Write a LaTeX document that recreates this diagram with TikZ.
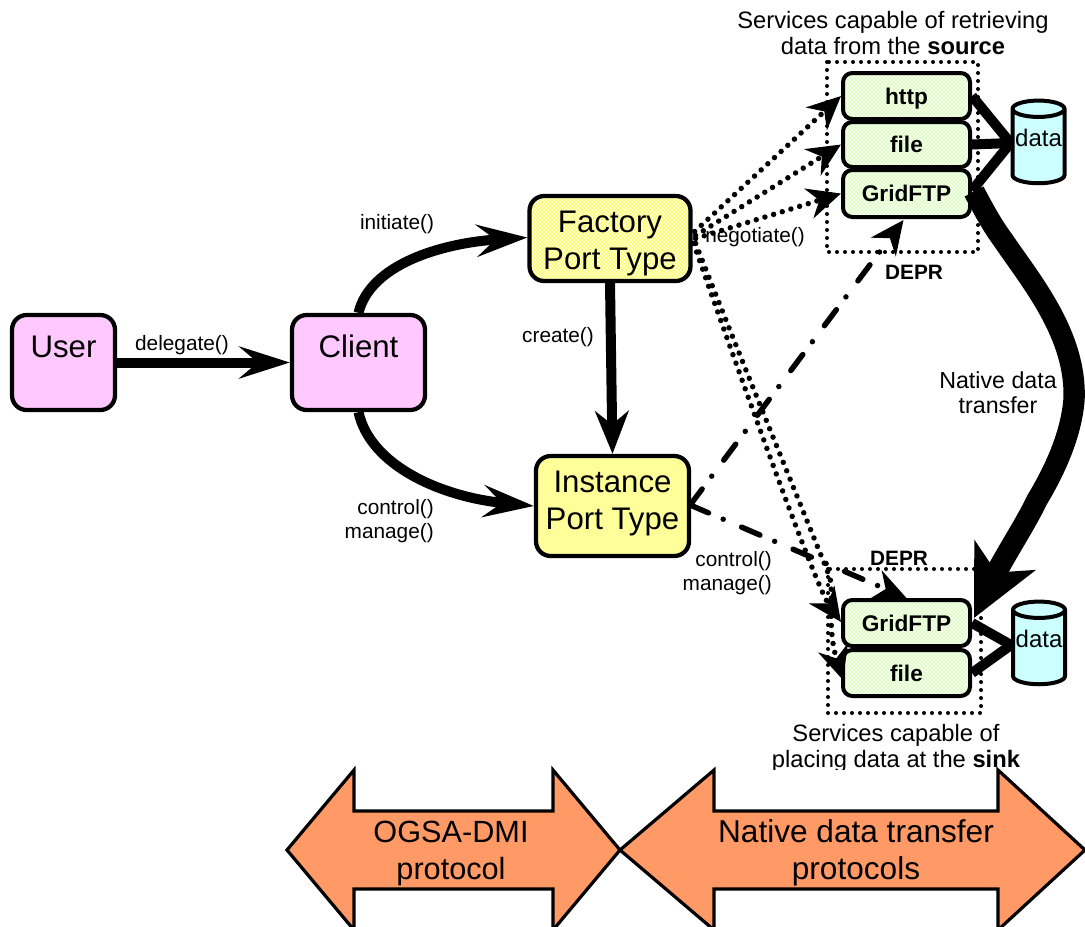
\documentclass[tikz,border=0pt]{standalone}
\usepackage{fontspec}
\setmainfont{Liberation Sans}
\usetikzlibrary{arrows.meta,calc,patterns,shapes.geometric}
\definecolor{pinkfill}{HTML}{FFC8FF}
\definecolor{yellowfill}{HTML}{FFFF99}
\definecolor{yellowbase}{HTML}{FFFF60}
\definecolor{greenbase}{HTML}{DCFFBE}
\definecolor{cyanfill}{HTML}{CCFFFF}
\definecolor{orangefill}{HTML}{FF9966}
\tikzset{
  boxsize/.style 2 args={minimum width=#1*0.75pt,minimum height=#2*0.75pt},
  rbox/.style={draw=black,line width=3.2pt,rounded corners=11pt,inner sep=0pt,align=center,
     font=\fontsize{23.4}{27.75}\selectfont},
  hatchyellow/.style={preaction={fill=yellowbase},pattern=crosshatch,pattern color=white},
  hatchgreen/.style={preaction={fill=greenbase},pattern=crosshatch,pattern color=white},
  svcbox/.style={draw=black,line width=3pt,rounded corners=7pt,inner sep=0pt,
     text height=12.2pt,text depth=0pt,
     minimum width=95.25pt,font=\fontsize{17}{20}\selectfont\bfseries,hatchgreen},
  dotbox/.style={draw=black,line width=3pt,line cap=round,dash pattern=on 0pt off 6pt},
  lab/.style={inner sep=0pt,align=center,font=\fontsize{15.6}{17.6}\selectfont},
  labr/.style={inner sep=0pt,align=right,font=\fontsize{15.6}{17.6}\selectfont},
  captxt/.style={inner sep=0pt,align=center,font=\fontsize{17.8}{19.5}\selectfont},
  depr/.style={inner sep=0pt,font=\fontsize{15.6}{17}\selectfont\bfseries},
  biglab/.style={inner sep=0pt,align=center,font=\fontsize{23}{27.75}\selectfont},
  datacyl/.style={shape=cylinder,shape border rotate=90,aspect=0.35,draw=black,line width=3pt,
     fill=cyanfill,inner sep=0pt,minimum width=39pt,minimum height=62pt,
     text height=9.5pt,text depth=11pt,
     font=\fontsize{18}{20}\selectfont},
  bigarrow/.style={draw=black,line width=2.4pt,fill=orangefill,line join=miter},
  solidflow/.style={draw=black,line width=7.5pt,-{Stealth[length=38pt,width=24pt,inset=14pt]}},
  datalink/.style={draw=black,line width=7.5pt},
  dotflow/.style={draw=black,line width=4.1pt,line cap=round,dash pattern=on 0pt off 6.8pt,
     -{Stealth[length=25pt,width=23pt,inset=8pt]}},
  dashdot/.style={draw=black,line width=4.1pt,line cap=round,
     dash pattern=on 15pt off 12pt on 0pt off 15pt},
  ddtip/.style={-{Stealth[length=25pt,width=23pt,inset=8pt]}},
}
\begin{document}
\begin{tikzpicture}[x=0.75pt,y=-0.75pt]
\useasboundingbox (0,0) rectangle (1085,926);
% dotted groups
\draw[dotbox] (827,62) rectangle (978,252);
\draw[dotbox] (828,569) rectangle (981,713);
% main boxes
\node[rbox,fill=pinkfill,boxsize={103}{95},text height=17pt,text depth=24.5pt] (user) at (63.5,362.5) {User};
\node[rbox,fill=pinkfill,boxsize={133}{95},text height=17pt,text depth=24.5pt] (client) at (358.5,362.5) {Client};
\node[rbox,hatchyellow,boxsize={161}{85}] (factory) at (610,238.5) {\rule{0pt}{23.6pt}Factory\\Port Type};
\node[rbox,fill=yellowfill,boxsize={153}{100},text depth=8.3pt] (instance) at (612.5,506) {Instance\\Port Type};
% services
\node[svcbox,boxsize={127}{46}] (http) at (906.5,96) {http};
\node[svcbox,boxsize={127}{45}] (fileS) at (906.5,144.5) {file};
\node[svcbox,boxsize={127}{47}] (gridS) at (906.5,193.5) {GridFTP};
\node[svcbox,boxsize={127}{46}] (gridD) at (906.5,623) {GridFTP};
\node[svcbox,boxsize={127}{46}] (fileD) at (906.5,673) {file};
\node[datacyl] (dataS) at (1038.5,147) {data};
\node[datacyl] (dataD) at (1039,648) {data};
% data links
\draw[datalink] (http.east) -- ($(dataS.west)+(0,-4)$);
\draw[datalink] (fileS.east) -- ($(dataS.west)+(0,-4)$);
\draw[datalink] ($(gridS.east)+(0,-3)$) -- ($(dataS.west)+(0,-4)$);
\draw[datalink] (gridD.east) -- ($(dataD.west)+(0,-3)$);
\draw[datalink] (fileD.east) -- ($(dataD.west)+(0,-3)$);
% solid flows
\draw[solidflow] (user.east) -- (client.west);
\draw[solidflow] (client.north) .. controls (370,265) and (440,243) .. ($(factory.west)+(0,-1)$);
\draw[solidflow] (client.south) .. controls (370,465) and (440,497) .. (instance.west);
\draw[draw=black,line width=7.5pt,-{Stealth[length=32pt,width=25pt,inset=10pt]}] (factory.south) -- (instance.north);
% native transfer
\draw[draw=black,line width=16pt,-{Stealth[length=52pt,width=50pt,inset=14pt]}]
  ($(gridS.east)+(2,-2)$) .. controls (985,212) and (992,225) .. (1003,240)
  .. controls (1030,280) and (1077,335) .. (1074,400)
  .. controls (1071,435) and (1055,470) .. (1037,500)
  .. controls (1025,525) and (1005,555) .. ($(gridD.east)+(2,-5)$);
% negotiate
\draw[dotflow] ($(factory.east)+(2,-7)$) -- (http.west);
\draw[dotflow] ($(factory.east)+(3,-3)$) -- (fileS.west);
\draw[dotflow] ($(factory.east)+(3,0)$) -- (gridS.west);
\draw[dotflow] ($(factory.east)+(1,5)$) .. controls (735,362) and (815,585) .. ($(gridD.west)+(0,-1)$);
\draw[dotflow] ($(factory.east)+(3,5)$) .. controls (739,354) and (784,464) .. (829,575)
  .. controls (835,590) and (826,625) .. ($(fileD.west)+(2,7)$);
% DEPR
\draw[dashdot,ddtip] ($(instance.east)+(-1,-1)$) -- ($(gridS.south)+(-3,1)$);
\draw[dashdot,ddtip] ($(instance.east)+(-1,-1)$) -- (gridD.north);
% labels
\node[lab] (l1) at (182,345) {delegate()};
\node[lab] (l2) at (397,224) {initiate()};
\node[lab] (l3) at (558,337) {create()};
\node[labr,anchor=east] (l4) at (434,521) {control()\\manage()};
\node[lab] (l5) at (755,237) {negotiate()};
\node[labr,anchor=east] (l6) at (772,573) {control()\\manage()};
\node[depr] (d1) at (914,272) {DEPR};
\node[depr] (d2) at (899,558) {DEPR};
\node[lab,font=\fontsize{17.4}{18.6}\selectfont] (l7) at (998,393) {Native data\\transfer};
\node[captxt] (c1) at (893,33) {Services capable of retrieving\\data from the \textbf{source}};
\begin{scope}
\clip (700,700) rectangle (1085,769);
\node[captxt] (c2) at (896,748.5) {Services capable of\\placing data at the \textbf{sink}};
\end{scope}
% bottom arrows
\draw[bigarrow] (287,850) -- (354,770) -- (354,811) -- (553,811) -- (553,770) -- (620,850)
  -- (553,930) -- (553,889) -- (354,889) -- (354,930) -- cycle;
\draw[bigarrow] (620,850) -- (714,770) -- (714,811) -- (998,811) -- (998,770) -- (1085,850)
  -- (998,930) -- (998,889) -- (714,889) -- (714,930) -- cycle;
\node[biglab] (b1) at (451,853) {OGSA-DMI\\protocol};
\node[biglab,font=\fontsize{23.7}{27.75}\selectfont] (b2) at (856,853) {Native data transfer\\protocols};
\end{tikzpicture}
\end{document}
